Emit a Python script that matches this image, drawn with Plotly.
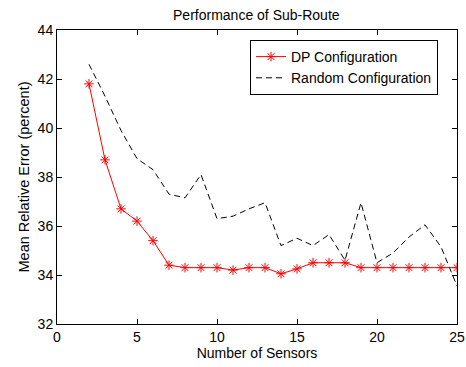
import plotly.graph_objects as go

sensors = list(range(2, 26))
dp_error = [41.8, 38.7, 36.7, 36.2, 35.4, 34.4, 34.3, 34.3, 34.3, 34.2, 34.3, 34.3,
            34.05, 34.25, 34.5, 34.5, 34.5, 34.3, 34.3, 34.3, 34.3, 34.3, 34.3, 34.3]
random_error = [42.6, 41.3, 39.9, 38.75, 38.3, 37.3, 37.15, 38.1, 36.3, 36.4, 36.7, 36.95,
                35.2, 35.5, 35.2, 35.65, 34.6, 36.95, 34.5, 34.9, 35.55, 36.05, 35.15, 33.55]
x_ticks = [0, 5, 10, 15, 20, 25]
y_ticks = [32, 34, 36, 38, 40, 42, 44]

FONT = "Liberation Sans, Arial, sans-serif"
FS = 14

fig = go.Figure()
fig.add_trace(go.Scatter(
    x=sensors, y=dp_error, mode="lines+markers", name="DP Configuration",
    line=dict(color="red", width=1),
    marker=dict(symbol="asterisk-open", size=8, color="red", line=dict(color="red", width=1)),
))
fig.add_trace(go.Scatter(
    x=sensors, y=random_error, mode="lines", name="Random Configuration",
    line=dict(color="black", width=1, dash="6px,4px"),
))

axis_common = dict(
    showline=True, linecolor="black", linewidth=1, mirror="ticks",
    ticks="inside", ticklen=5, tickcolor="black", showgrid=False, zeroline=False,
    automargin=False,
    tickfont=dict(family=FONT, size=FS, color="black"),
)
fig.update_xaxes(range=[0, 25], tickvals=x_ticks,
                 title=dict(text="Number of Sensors", font=dict(family=FONT, size=FS, color="black"), standoff=2),
                 **axis_common)
fig.update_yaxes(range=[32, 44], tickvals=y_ticks,
                 title=dict(text="Mean Relative Error (percent)", font=dict(family=FONT, size=14.5, color="black"), standoff=4),
                 **axis_common)

fig.update_layout(
    width=466, height=367,
    margin=dict(l=57, r=9, t=30, b=43),
    paper_bgcolor="white", plot_bgcolor="white",
    title=dict(text="Performance of Sub-Route", x=0.55, xanchor="center", y=0.96, yanchor="middle",
               font=dict(family=FONT, size=FS, color="black")),
    font=dict(family=FONT, size=FS, color="black"),
    legend=dict(x=0.4825, y=0.966, xanchor="left", yanchor="top",
                bordercolor="black", borderwidth=1, bgcolor="white",
                font=dict(family=FONT, size=FS, color="black"),
                tracegroupgap=0, itemwidth=30),
    showlegend=True,
)

fig.write_html("out.html")
